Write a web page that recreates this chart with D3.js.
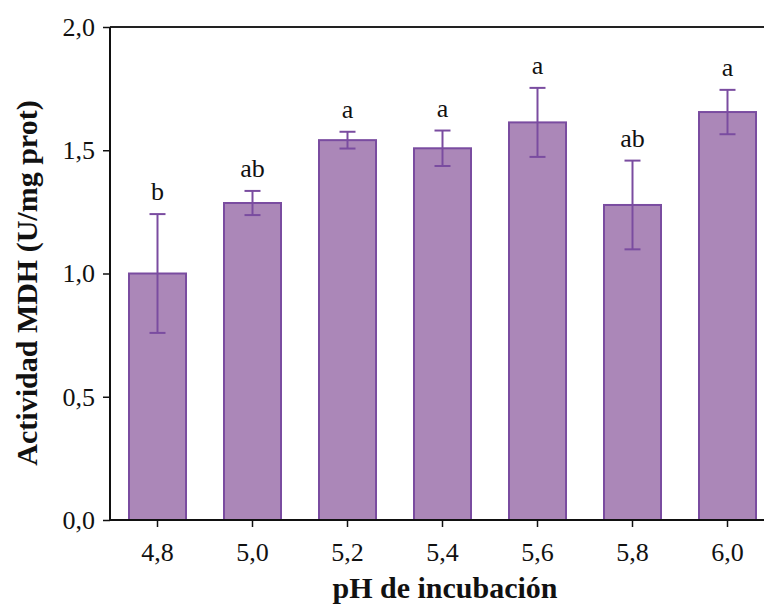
<!DOCTYPE html>
<html>
<head>
<meta charset="utf-8">
<script src="https://cdn.jsdelivr.net/npm/d3@7"></script>
<style>
  html, body { margin: 0; padding: 0; background: #fff; }
  svg { display: block; }
</style>
</head>
<body>
<svg id="chart" width="764" height="606"></svg>
<script>
const categories = ["4,8", "5,0", "5,2", "5,4", "5,6", "5,8", "6,0"];
const means = [1.00, 1.286, 1.541, 1.508, 1.613, 1.278, 1.655];
const errors = [0.241, 0.049, 0.034, 0.072, 0.140, 0.180, 0.090];
const letters = ["b", "ab", "a", "a", "a", "ab", "a"];
const yTicks = [0, 0.5, 1.0, 1.5, 2.0];
const yTickLabels = ["0,0", "0,5", "1,0", "1,5", "2,0"];

const svg = d3.select("#chart");
const margin = { left: 110, top: 27, right: -11, bottom: 86 };
const W = 764, H = 606;
const x0 = margin.left, x1 = W - margin.right;
const yTop = margin.top, yBot = H - margin.bottom;

const x = d3.scaleBand().domain(categories).range([x0, x1]).paddingInner(0.4).paddingOuter(0.2);
const y = d3.scaleLinear().domain([0, 2.0]).range([yBot, yTop]);

const fillC = "#ab87b8";
const strokeC = "#7a4ca0";
const font = "'Liberation Serif', 'Times New Roman', serif";

// top frame line
svg.append("line")
  .attr("x1", x0).attr("x2", x1).attr("y1", yTop).attr("y2", yTop)
  .attr("stroke", "#222").attr("stroke-width", 2);

// bars
svg.append("g").selectAll("rect").data(categories).join("rect")
  .attr("x", d => x(d))
  .attr("y", (d, i) => y(means[i]))
  .attr("width", x.bandwidth())
  .attr("height", (d, i) => y(0) - y(means[i]))
  .attr("fill", fillC)
  .attr("stroke", strokeC)
  .attr("stroke-width", 2);

// error bars
const eb = svg.append("g").attr("stroke", strokeC).attr("stroke-width", 2).attr("fill", "none");
categories.forEach((c, i) => {
  const cx = x(c) + x.bandwidth() / 2;
  const hi = y(means[i] + errors[i]), lo = y(means[i] - errors[i]);
  eb.append("line").attr("x1", cx).attr("x2", cx).attr("y1", hi).attr("y2", lo);
  eb.append("line").attr("x1", cx - 8).attr("x2", cx + 8).attr("y1", hi).attr("y2", hi);
  eb.append("line").attr("x1", cx - 8).attr("x2", cx + 8).attr("y1", lo).attr("y2", lo);
});

// significance letters
svg.append("g").selectAll("text").data(categories).join("text")
  .attr("x", d => x(d) + x.bandwidth() / 2)
  .attr("y", (d, i) => y(means[i] + errors[i]) - 14)
  .attr("text-anchor", "middle")
  .attr("font-family", font)
  .attr("font-size", 26)
  .attr("fill", "#111")
  .text((d, i) => letters[i]);

// axes
const yAxis = d3.axisLeft(y).tickValues(yTicks).tickFormat((d, i) => yTickLabels[i]).tickSize(7).tickPadding(8);
const gy = svg.append("g").attr("transform", `translate(${x0},0)`).call(yAxis);
const xAxis = d3.axisBottom(x).tickSize(7).tickPadding(16);
const gx = svg.append("g").attr("transform", `translate(0,${yBot})`).call(xAxis);

[gx, gy].forEach(g => {
  g.select(".domain").attr("stroke", "#111").attr("stroke-width", 2);
  g.selectAll(".tick line").attr("stroke", "#111").attr("stroke-width", 1.5);
  g.selectAll("text").attr("font-family", font).attr("font-size", 26).attr("fill", "#111");
});
gx.select(".domain").attr("d", `M${x0},0H${x1}`);
gy.select(".domain").attr("d", `M0,${yBot}V${yTop}`);

// axis titles
svg.append("text")
  .attr("x", 445).attr("y", 598)
  .attr("text-anchor", "middle")
  .attr("font-family", font).attr("font-weight", "bold").attr("font-size", 30)
  .attr("fill", "#111")
  .text("pH de incubación");

svg.append("text")
  .attr("transform", "translate(37,283) rotate(-90)")
  .attr("text-anchor", "middle")
  .attr("font-family", font).attr("font-weight", "bold").attr("font-size", 30)
  .attr("fill", "#111")
  .text("Actividad MDH (U/mg prot)");
</script>
</body>
</html>
